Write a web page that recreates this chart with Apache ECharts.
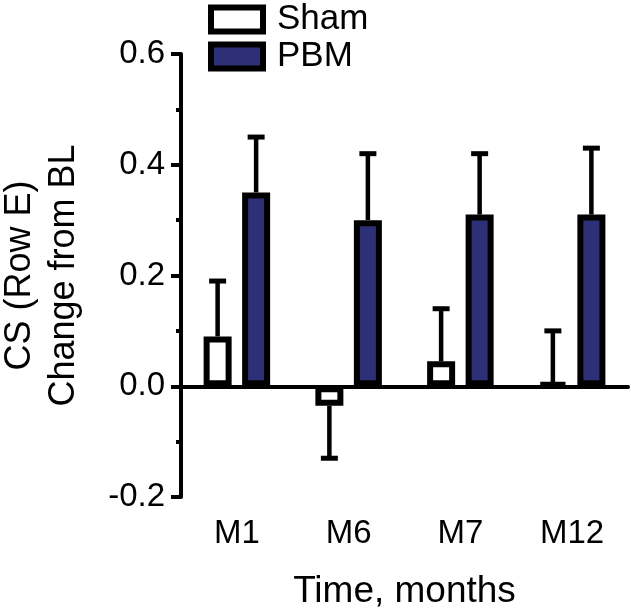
<!DOCTYPE html>
<html>
<head>
<meta charset="utf-8">
<script src="https://cdn.jsdelivr.net/npm/echarts@6/dist/echarts.min.js"></script>
<style>html,body{margin:0;padding:0;background:#fff;}#c{width:631px;height:611px;}</style>
</head>
<body>
<div id="c"></div>
<script>
var categories = ['M1', 'M6', 'M7', 'M12'];
var shamValues = [0.09, -0.035, 0.045, 0.005];
var shamErrors = [0.10, 0.095, 0.095, 0.095];
var pbmValues = [0.35, 0.30, 0.31, 0.31];
var pbmErrors = [0.10, 0.12, 0.11, 0.12];
var yTicks = [-0.2, 0.0, 0.2, 0.4, 0.6];

var FONT = 'Liberation Sans, Arial, Helvetica, sans-serif';
var NAVY = '#2e3077';
var BAR_W = 28;
var OFFSET = 19.25;

function errorSeries(name, values, errors, offset) {
  var data = values.map(function (v, i) { return [i, v, errors[i]]; });
  return {
    type: 'custom',
    name: name + ' err',
    z: 1,
    silent: true,
    data: data,
    renderItem: function (params, api) {
      var idx = api.value(0), v = api.value(1), e = api.value(2);
      var dir = v < 0 ? -1 : 1;
      var p0 = api.coord([idx, v]);
      var p1 = api.coord([idx, v + dir * e]);
      var x = p0[0] + offset;
      var capHalf = 8.5;
      return {
        type: 'group',
        children: [
          { type: 'line', shape: { x1: x, y1: p0[1], x2: x, y2: p1[1] },
            style: { stroke: '#000', lineWidth: 4.5 } },
          { type: 'line', shape: { x1: x - capHalf, y1: p1[1], x2: x + capHalf, y2: p1[1] },
            style: { stroke: '#000', lineWidth: 5 } }
        ]
      };
    }
  };
}

var chart = echarts.init(document.getElementById('c'));
chart.setOption({
  animation: false,
  backgroundColor: '#fff',
  grid: { left: 181, right: 3, top: 54, bottom: 114, containLabel: false, outerBoundsMode: 'none' },
  legend: {
    orient: 'vertical',
    left: 203,
    top: -3,
    itemWidth: 52,
    itemHeight: 24,
    itemGap: 2,
    icon: 'rect',
    itemStyle: { borderColor: '#000', borderWidth: 6 },
    textStyle: { fontFamily: FONT, fontSize: 35, color: '#000', lineHeight: 30, padding: [0, 0, 0, 9] },
    data: ['Sham', 'PBM']
  },
  xAxis: {
    type: 'category',
    data: categories,
    name: 'Time, months',
    nameLocation: 'middle',
    nameGap: 76,
    nameTextStyle: { fontFamily: FONT, fontSize: 37, color: '#000' },
    axisLine: { lineStyle: { color: '#000', width: 4 } },
    axisTick: { alignWithLabel: true, length: 12, lineStyle: { color: '#000', width: 4 } },
    axisLabel: { fontFamily: FONT, fontSize: 33, color: '#000', margin: 20 },
    splitLine: { show: false }
  },
  yAxis: {
    type: 'value',
    min: -0.2,
    max: 0.6,
    interval: 0.2,
    name: 'CS (Row E)\nChange from BL',
    nameLocation: 'middle',
    nameRotate: 90,
    nameGap: 95,
    nameTextStyle: { fontFamily: FONT, fontSize: 36, color: '#000', lineHeight: 44 },
    axisLine: { show: true, lineStyle: { color: '#000', width: 4 } },
    axisTick: { show: true, length: 10, lineStyle: { color: '#000', width: 4 } },
    minorTick: { show: true, splitNumber: 2, length: 5, lineStyle: { color: '#000', width: 4 } },
    axisLabel: {
      fontFamily: FONT, fontSize: 33, color: '#000', margin: 16,
      formatter: function (v) {
        var r = Math.round(v * 10) / 10;
        for (var i = 0; i < yTicks.length; i++) {
          if (Math.abs(yTicks[i] - r) < 1e-9) return yTicks[i].toFixed(1);
        }
        return r.toFixed(1);
      }
    },
    splitLine: { show: false },
    minorSplitLine: { show: false }
  },
  series: [
    {
      name: 'Sham',
      type: 'bar',
      z: 3,
      barWidth: BAR_W,
      barGap: '37.5%',
      data: shamValues,
      itemStyle: { color: '#fff', borderColor: '#000', borderWidth: 6 },
      markLine: {
        silent: true,
        symbol: 'none',
        label: { show: false },
        lineStyle: { color: '#000', width: 3.5, type: 'solid' },
        data: [{ yAxis: 0 }]
      }
    },
    {
      name: 'PBM',
      type: 'bar',
      z: 3,
      barWidth: BAR_W,
      data: pbmValues,
      itemStyle: { color: NAVY, borderColor: '#000', borderWidth: 6 }
    },
    errorSeries('Sham', shamValues, shamErrors, -OFFSET),
    errorSeries('PBM', pbmValues, pbmErrors, OFFSET)
  ]
});
</script>
</body>
</html>
